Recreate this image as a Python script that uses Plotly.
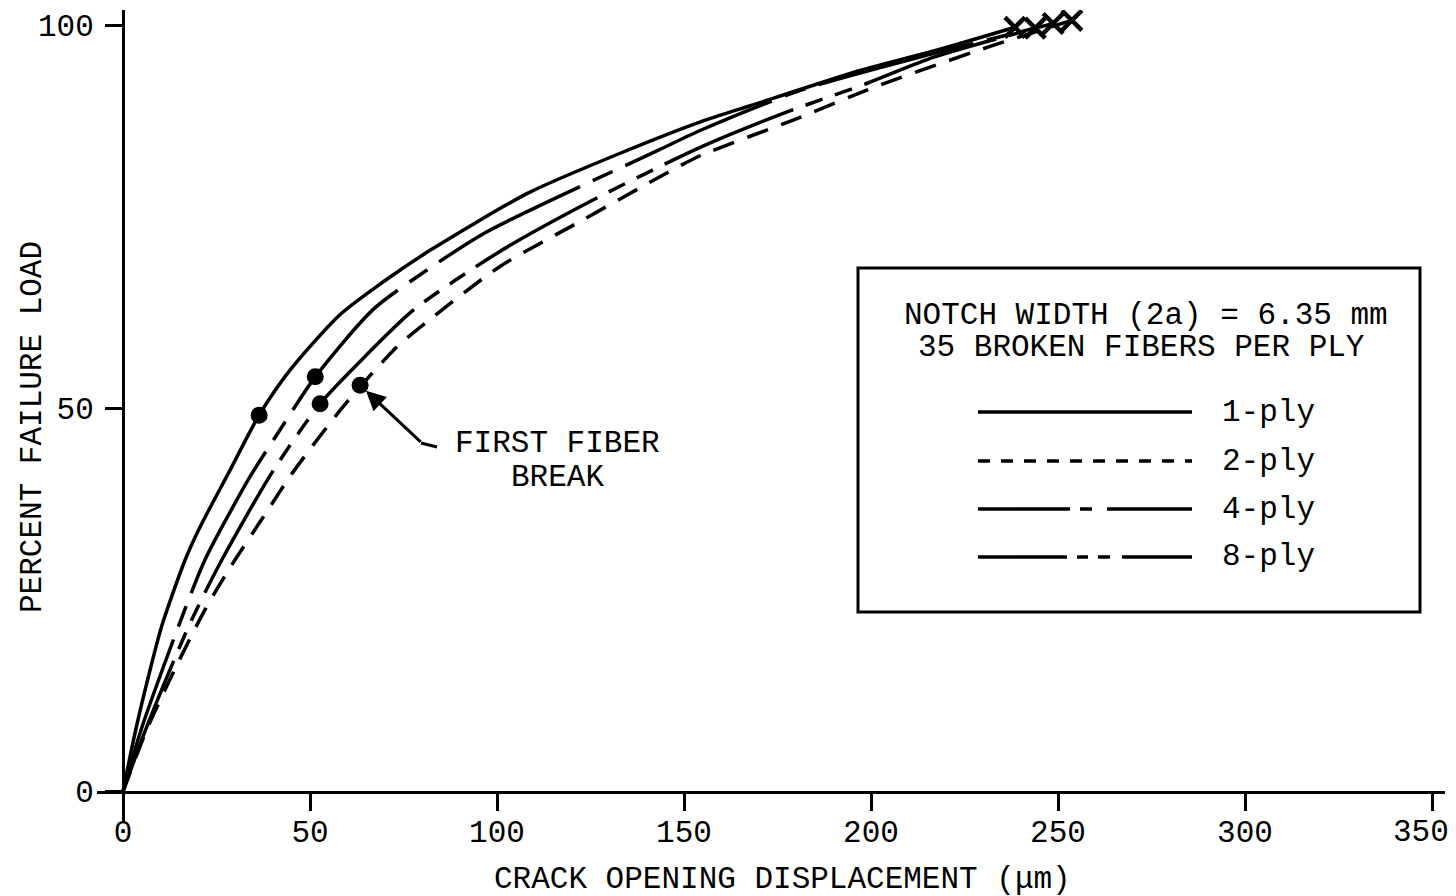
import plotly.graph_objects as go

# ---------------- data ----------------
ply1_x = [0, 3.2, 6.8, 10.3, 16.6, 20.6, 28.6, 36.4, 44.7, 58.0, 69.6, 82.1, 108.4, 135.1, 154.6, 167.9, 197.3, 216.8, 238.5]
ply1_y = [0, 7.6, 15.0, 21.5, 30.2, 34.5, 41.9, 49.1, 55.0, 62.2, 66.5, 70.6, 78.1, 83.7, 87.4, 89.5, 94.1, 96.6, 99.7]

ply4_x = [0, 4.8, 14.8, 21.9, 34.0, 42.0, 51.4, 66.9, 81.2, 97.2, 143.3, 154.6, 181.3, 216.8, 243.9]
ply4_y = [0, 8.0, 21.5, 30.2, 41.1, 47.2, 54.1, 62.9, 68.0, 73.0, 83.7, 86.3, 91.5, 96.3, 99.6]

ply8_x = [0, 6.0, 17.5, 26.4, 40.2, 52.7, 65.2, 77.6, 99.9, 125.0, 154.6, 176.7, 199.0, 216.8, 248.7]
ply8_y = [0, 8.0, 21.5, 30.2, 41.9, 50.6, 57.0, 62.8, 70.2, 77.0, 84.1, 88.5, 92.4, 95.8, 100.2]

ply2_x = [0, 6.3, 13.9, 21.9, 29.0, 37.5, 45.5, 59.2, 73.2, 82.1, 100.8, 123.1, 145.4, 154.6, 179.2, 201.5, 231.8, 253.7]
ply2_y = [0, 8.0, 16.0, 23.7, 29.5, 35.8, 41.7, 50.4, 58.0, 61.6, 68.5, 74.6, 80.7, 83.0, 87.6, 92.0, 97.2, 100.6]

# first fiber break points (1-ply, 4-ply, 8-ply, 2-ply)
break_x = [36.4, 51.4, 52.7, 63.4]
break_y = [49.1, 54.1, 50.6, 53.0]

# failure points (1-ply, 4-ply, 8-ply, 2-ply)
fail_x = [238.5, 243.9, 248.7, 253.7]
fail_y = [99.7, 99.6, 100.2, 100.6]

x_ticks = [0, 50, 100, 150, 200, 250, 300, 350]
x_tick_labels = ["0", "50", "100", "150", "200", "250", "300", "350"]
y_ticks = [0, 50, 100]

legend_labels = ["1-ply", "2-ply", "4-ply", "8-ply"]
title_x = "CRACK OPENING DISPLACEMENT (\u03bcm)"
title_y = "PERCENT FAILURE LOAD"
box_line1 = "NOTCH WIDTH (2a) = 6.35 mm"
box_line2 = "35 BROKEN FIBERS PER PLY"
break_line1 = "FIRST FIBER"
break_line2 = "BREAK"

# ---------------- styling ----------------
FONT = "Liberation Mono"
FS = 31
LW = 3.5
dash_curve = {
    "1-ply": "solid",
    "2-ply": "22px,14px",
    "4-ply": "160px,14px,22px,14px",
    "8-ply": "140px,13px,18px,13px,18px,13px",
}
dash_legend = {
    "1-ply": "solid",
    "2-ply": "12px,11px",
    "4-ply": "92px,10px,12px,15px",
    "8-ply": "89px,10px,11px,10px,12px,12px",
}

W, H = 1456, 896
ML, MR, MT, MB = 97, 11, 10, 74
PW, PH = W - ML - MR, H - MT - MB


def px(xp):
    return (xp - ML) / PW


def py(yp):
    return (H - MB - yp) / PH


def txt(x, y, s, **kw):
    d = dict(xref="paper", yref="paper", x=px(x), y=py(y), text=s,
             showarrow=False, xanchor="center", yanchor="middle",
             font=dict(family=FONT, size=FS, color="black"))
    d.update(kw)
    return d


fig = go.Figure()

curves = [("1-ply", ply1_x, ply1_y), ("4-ply", ply4_x, ply4_y),
          ("8-ply", ply8_x, ply8_y), ("2-ply", ply2_x, ply2_y)]
for name, xs, ys in curves:
    fig.add_trace(go.Scatter(
        x=xs, y=ys, mode="lines", name=name, showlegend=False,
        line=dict(color="black", width=LW, dash=dash_curve[name],
                  shape="spline", smoothing=0.7),
        hoverinfo="skip"))

fig.add_trace(go.Scatter(
    x=break_x, y=break_y, mode="markers", showlegend=False,
    marker=dict(symbol="circle", size=17, color="black"), hoverinfo="skip"))

fig.add_trace(go.Scatter(
    x=fail_x, y=fail_y, mode="markers", showlegend=False,
    marker=dict(symbol="x-thin", size=20, color="black",
                line=dict(color="black", width=4.5)), hoverinfo="skip"))

# legend box
shapes = [dict(type="rect", xref="paper", yref="paper",
               x0=px(858), x1=px(1420), y0=py(612), y1=py(268),
               line=dict(color="black", width=3))]
leg_y = [412, 461, 509, 557]
annotations = []
for lab, yy in zip(legend_labels, leg_y):
    shapes.append(dict(type="line", xref="paper", yref="paper",
                       x0=px(978), x1=px(1192), y0=py(yy), y1=py(yy),
                       line=dict(color="black", width=LW, dash=dash_legend[lab])))
    annotations.append(txt(1220, yy, lab, xanchor="left"))

annotations += [
    txt(1146, 315, box_line1),
    txt(1141, 347, box_line2),
    txt(782, 879, title_x),
    txt(32, 427, title_y, textangle=-90),
    txt(557, 443, break_line1),
    txt(557, 477, break_line2),
    # last x tick label, kept inside the page like in the reference
    dict(x=x_ticks[-1], y=0, xref="x", yref="y", text=x_tick_labels[-1],
         showarrow=False, xanchor="right", yanchor="middle", xshift=19, yshift=-41,
         font=dict(family=FONT, size=FS, color="black")),
    # leader arrow to the 2-ply first fiber break
    dict(x=break_x[3], y=break_y[3], xref="x", yref="y", text="",
         showarrow=True, ax=62, ay=58, axref="pixel", ayref="pixel",
         arrowhead=2, arrowsize=1.3, arrowwidth=3, arrowcolor="black", standoff=8),
]
shapes.append(dict(type="line", xref="paper", yref="paper",
                   x0=px(421), y0=py(443), x1=px(437), y1=py(447),
                   line=dict(color="black", width=3)))

axis_common = dict(showline=True, linewidth=3, linecolor="black",
                   ticks="outside", ticklen=17, tickwidth=3, tickcolor="black",
                   showgrid=False, zeroline=False, ticklabeloverflow="allow",
                   automargin=False,
                   tickfont=dict(family=FONT, size=FS, color="black"))

fig.update_layout(
    width=W, height=H,
    margin=dict(l=ML, r=MR, t=MT, b=MB, autoexpand=False),
    paper_bgcolor="white", plot_bgcolor="white",
    xaxis=dict(range=[-26 / 3.74, 350 + 13 / 3.74], anchor="free",
               position=(H - MB - 791.5) / PH, tickvals=x_ticks,
               ticktext=x_tick_labels[:-1] + [""],
               ticklabelstandoff=-6, **axis_common),
    yaxis=dict(range=[-(H - MB - 791.5) / 7.665, 100 + 15 / 7.665], anchor="free",
               position=26 / PW, tickvals=y_ticks, ticklabelstandoff=5,
               **axis_common),
    shapes=shapes, annotations=annotations,
)

fig.write_html("out.html")
